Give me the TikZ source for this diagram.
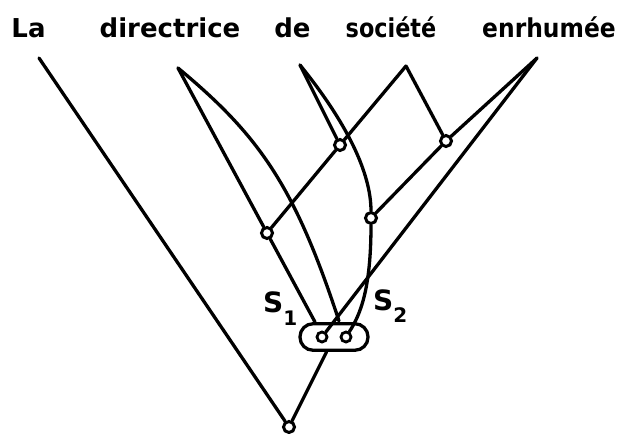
\documentclass[tikz,border=0pt]{standalone}
\usepackage{fontspec}
\setmainfont{DejaVu Sans}
\usetikzlibrary{backgrounds}
\begin{document}
\begin{tikzpicture}[x=1pt,y=-1pt,
  lnk/.style={line width=3.3pt, line cap=round, line join=round},
  dot/.style={circle, draw, line width=3pt, fill=white, inner sep=0pt, minimum size=11pt},
  idot/.style={circle, draw, line width=2.8pt, fill=white, inner sep=0pt, minimum size=10pt},
  word/.style={anchor=base, font=\fontsize{26}{26}\selectfont\bfseries, inner sep=0pt},
  slab/.style={anchor=base west, font=\fontsize{28}{28}\selectfont\bfseries, inner sep=0pt},
  grpbox/.style={draw, line width=3.3pt, rounded corners=13pt, minimum width=68pt, minimum height=26.5pt, inner sep=0pt},
]
\useasboundingbox (0,0) rectangle (622,434);
% words
\node[word] (wLa)  at (28.5,37) {La};
\node[word] (wDir) at (170,37) {directrice};
\node[word] (wDe)  at (292.5,37) {de};
\node[word, xscale=0.86] (wSoc) at (391,37) {société};
\node[word, xscale=0.9] (wEnr) at (549,37) {enrhumée};
% free ends
\coordinate (pLa)  at (39,58);
\coordinate (pDir) at (178,68);
\coordinate (pDe)  at (300,65);
\coordinate (pSoc) at (406,66);
\coordinate (pEnr) at (537,58);
\coordinate (gA)   at (315,322);
\coordinate (gDir) at (339,321);
% nodes
\node[dot] (A) at (267,233) {};
\node[dot] (B) at (340,145) {};
\node[dot] (C) at (371,218) {};
\node[dot] (D) at (446,141) {};
\node[dot] (root) at (289,427) {};
\node[grpbox] (grp) at (334,337) {};
\node[idot] (s1) at (322,337) {};
\node[idot] (s2) at (346,337) {};
% labels
\node[slab] (S1) at (263,312) {S\raisebox{-13pt}{\fontsize{20}{20}\selectfont 1}};
\node[slab] (S2) at (373,310) {S\raisebox{-12pt}{\fontsize{20}{20}\selectfont 2}};
% connectors
\begin{pgfonlayer}{background}
\draw[lnk] (pLa) -- (root);
\draw[lnk] (pDir) -- (A) -- (gA);
\draw[lnk] (pDir) .. controls (260,136) and (295,187) .. (gDir);
\draw[lnk] (pDe) -- (B);
\draw[lnk] (pDe) .. controls (347,123) and (371,173) .. (C);
\draw[lnk] (C) .. controls (371,290) and (360,315) .. (s2);
\draw[lnk] (pSoc) -- (B) -- (A);
\draw[lnk] (pSoc) -- (D);
\draw[lnk] (pEnr) -- (D) -- (C);
\draw[lnk] (pEnr) -- (s1);
\draw[lnk] (grp) -- (root);
\end{pgfonlayer}
\end{tikzpicture}
\end{document}
